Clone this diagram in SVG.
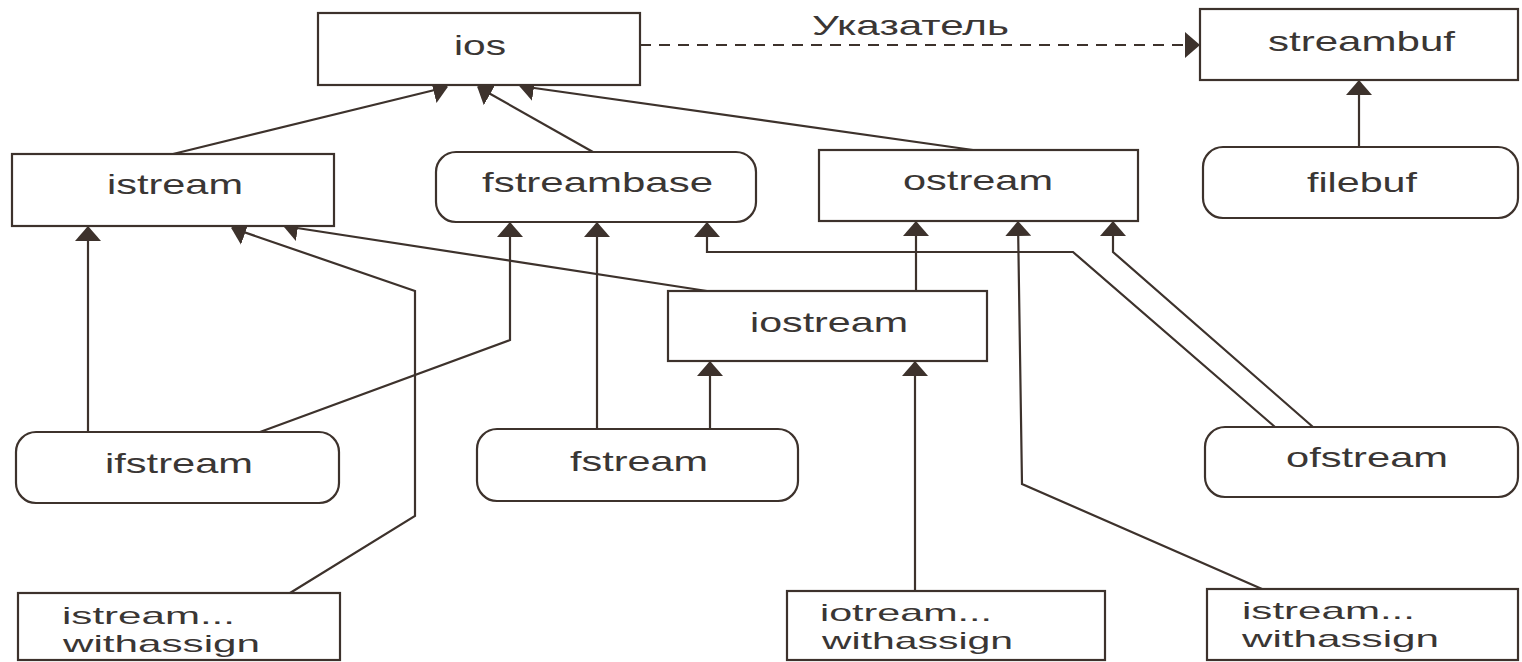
<svg xmlns="http://www.w3.org/2000/svg" width="1522" height="662" viewBox="0 0 1522 662">
<style>
.box{fill:#fff;stroke:#3d322c;stroke-width:2.2}
.lbl{font-family:"Liberation Sans",Arial,sans-serif;font-size:28px;fill:#3a3634}
.sm{font-size:24px}
.c{fill:none;stroke:#3d322c;stroke-width:2.2}
.d{stroke-dasharray:11 8}
</style>
<defs>
<marker id="ah" markerUnits="userSpaceOnUse" markerWidth="15" markerHeight="26" refX="14" refY="13" orient="auto">
<path d="M0,0 L15,13 L0,26 z" fill="#3d322c"/>
</marker>
</defs>
<rect width="1522" height="662" fill="#fff"/>
<g id="connectors">
<path class="c" d="M173,154 L447,87" marker-end="url(#ah)"/>
<path class="c" d="M593,152 L478,87" marker-end="url(#ah)"/>
<path class="c" d="M973,150 L520,86" marker-end="url(#ah)"/>
<path class="c d" d="M640,45 L1199,45" marker-end="url(#ah)"/>
<path class="c" d="M1359,147 L1359,81" marker-end="url(#ah)"/>
<path class="c" d="M88,432 L88,227" marker-end="url(#ah)"/>
<path class="c" d="M260,432 L510,340 L510,223" marker-end="url(#ah)"/>
<path class="c" d="M290,593 L415,516 L415,291 L232,228" marker-end="url(#ah)"/>
<path class="c" d="M707,291 L284,226" marker-end="url(#ah)"/>
<path class="c" d="M916,291 L916,222" marker-end="url(#ah)"/>
<path class="c" d="M597,429 L597,223" marker-end="url(#ah)"/>
<path class="c" d="M710,429 L710,362" marker-end="url(#ah)"/>
<path class="c" d="M1275,427 L1073,252 L707,252 L707,223" marker-end="url(#ah)"/>
<path class="c" d="M1313,427 L1113,252 L1113,222" marker-end="url(#ah)"/>
<path class="c" d="M1262,589 L1022,484 L1018,222" marker-end="url(#ah)"/>
<path class="c" d="M915,591 L915,362" marker-end="url(#ah)"/>
<text class="lbl" x="812" y="35" textLength="197" lengthAdjust="spacingAndGlyphs">Указатель</text>
</g>
<g id="ios"><rect class="box" x="318" y="13" width="322" height="72"/><text class="lbl" x="454" y="55" textLength="52" lengthAdjust="spacingAndGlyphs">ios</text></g>
<g id="streambuf"><rect class="box" x="1200" y="9" width="318" height="71"/><text class="lbl" x="1268" y="51" textLength="187" lengthAdjust="spacingAndGlyphs">streambuf</text></g>
<g id="filebuf"><rect class="box" x="1203" y="147" width="315" height="71" rx="20"/><text class="lbl" x="1307" y="192" textLength="110" lengthAdjust="spacingAndGlyphs">filebuf</text></g>
<g id="istream"><rect class="box" x="12" y="154" width="322" height="72"/><text class="lbl" x="107" y="194" textLength="136" lengthAdjust="spacingAndGlyphs">istream</text></g>
<g id="fstreambase"><rect class="box" x="436" y="152" width="320" height="70" rx="20"/><text class="lbl" x="482" y="192" textLength="231" lengthAdjust="spacingAndGlyphs">fstreambase</text></g>
<g id="ostream"><rect class="box" x="819" y="150" width="319" height="71"/><text class="lbl" x="903" y="190" textLength="150" lengthAdjust="spacingAndGlyphs">ostream</text></g>
<g id="iostream"><rect class="box" x="668" y="291" width="319" height="70"/><text class="lbl" x="750" y="332" textLength="158" lengthAdjust="spacingAndGlyphs">iostream</text></g>
<g id="ifstream"><rect class="box" x="16" y="432" width="323" height="71" rx="20"/><text class="lbl" x="105" y="473" textLength="148" lengthAdjust="spacingAndGlyphs">ifstream</text></g>
<g id="fstream"><rect class="box" x="477" y="429" width="321" height="72" rx="20"/><text class="lbl" x="570" y="471" textLength="138" lengthAdjust="spacingAndGlyphs">fstream</text></g>
<g id="ofstream"><rect class="box" x="1205" y="427" width="313" height="70" rx="20"/><text class="lbl" x="1286" y="467" textLength="162" lengthAdjust="spacingAndGlyphs">ofstream</text></g>
<g id="istream_withassign_left"><rect class="box" x="18" y="593" width="322" height="67"/><text class="lbl sm" x="62" y="624" textLength="173" lengthAdjust="spacingAndGlyphs">istream...</text><text class="lbl sm" x="63" y="652" textLength="197" lengthAdjust="spacingAndGlyphs">withassign</text></g>
<g id="iotream_withassign"><rect class="box" x="787" y="591" width="318" height="69"/><text class="lbl sm" x="820" y="621" textLength="172" lengthAdjust="spacingAndGlyphs">iotream...</text><text class="lbl sm" x="822" y="649" textLength="191" lengthAdjust="spacingAndGlyphs">withassign</text></g>
<g id="istream_withassign_right"><rect class="box" x="1207" y="589" width="311" height="71"/><text class="lbl sm" x="1242" y="619" textLength="173" lengthAdjust="spacingAndGlyphs">istream...</text><text class="lbl sm" x="1242" y="647" textLength="197" lengthAdjust="spacingAndGlyphs">withassign</text></g>
</svg>
